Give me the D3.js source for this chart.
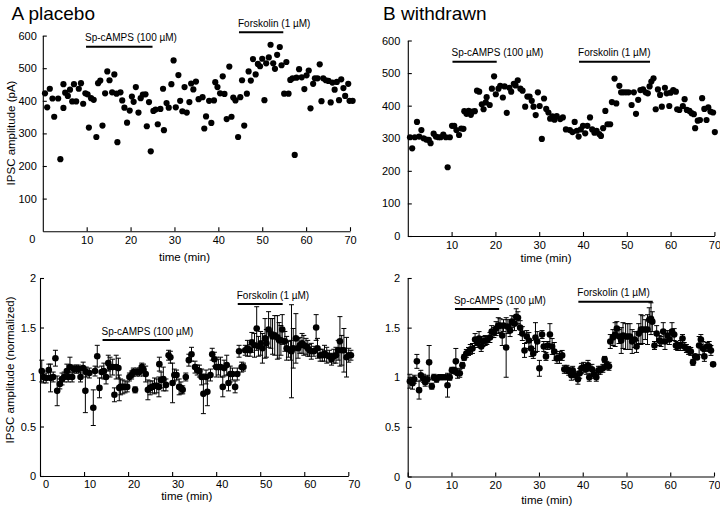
<!DOCTYPE html>
<html><head><meta charset="utf-8">
<script src="https://cdn.jsdelivr.net/npm/d3@7"></script>
<style>
body{margin:0;background:#fff}
svg{display:block}
text{font-family:"Liberation Sans",Arial,Helvetica,sans-serif;fill:#000}
</style>
</head><body>
<svg id="chart" width="720" height="508"></svg>
<script>
// ---------- tick labels / text ----------
const panelTitles = ["A placebo", "B withdrawn"];
const treatmentNames = ["Sp-cAMPS (100 \u00b5M)", "Forskolin (1 \u00b5M)"];
const timeTicksTop = [10, 20, 30, 40, 50, 60, 70];
const timeTicksBottom = [0, 10, 20, 30, 40, 50, 60, 70];
const ampTicksPlacebo = [100, 200, 300, 400, 500, 600];
const ampTicksWithdrawn = [0, 100, 200, 300, 400, 500, 600];
const normTicks = [0, 0.5, 1, 1.5, 2];
const xTitle = "time (min)";
const yTitleTop = "IPSC amplitude (pA)";
const yTitleBottom = "IPSC amplitude (normalized)";

// treatment periods [start, end] in minutes
const placeboTopTreat = [[9.85, 25.0], [44.7, 54.8]];
const withdrawnTopTreat = [[10.2, 20.3], [39.1, 55.3]];
const placeboBotTreat = [[14.2, 29.5], [44.9, 55.1]];
const withdrawnBotTreat = [[10.8, 20.9], [39.0, 56.0]];

// ---------- data: [time (min), IPSC amplitude (pA)] ----------
const placeboRaw = [
[0.5,423],[1.0,380],[1.6,437],[2.2,407],[2.6,351],[3.5,407],[4.0,221],[4.7,451],[4.7,378],[5.1,425],
[5.7,415],[6.2,434],[6.7,398],[7.1,451],[7.6,398],[8.2,437],[8.7,454],[9.2,391],[9.7,423],[10.2,420],
[10.5,318],[11.0,408],[11.6,403],[12.2,289],[12.6,454],[13.1,462],[13.6,324],[14.2,423],[14.7,490],[15.2,463],
[15.8,426],[16.3,481],[16.8,422],[17.0,273],[17.7,426],[18.1,401],[18.6,379],[19.2,333],[19.8,370],[20.3,413],
[20.7,397],[21.2,442],[21.8,364],[22.3,408],[22.8,419],[23.4,420],[23.7,322],[24.2,396],[24.6,245],[25.2,369],
[25.7,373],[26.2,328],[26.8,375],[27.4,437],[27.6,310],[28.2,393],[28.7,379],[29.3,451],[29.8,524],[30.3,380],
[30.9,479],[31.3,400],[31.8,368],[32.3,442],[32.8,364],[33.4,396],[33.8,453],[34.3,435],[34.9,459],[35.5,405],
[36.4,411],[36.8,315],[37.2,352],[37.9,400],[38.4,332],[39.0,401],[39.3,457],[39.8,442],[40.4,423],[41.0,475],
[41.4,421],[41.9,344],[42.5,505],[43.0,351],[43.4,410],[43.9,401],[44.5,289],[45.0,411],[45.4,463],[45.9,324],
[46.5,422],[46.9,490],[47.4,462],[47.9,528],[48.5,481],[49.0,513],[49.5,506],[50.0,529],[50.5,402],[50.9,515],
[51.5,533],[51.9,572],[52.5,515],[52.9,498],[53.4,541],[54.0,565],[54.4,509],[55.0,422],[55.5,519],[56.0,422],
[56.4,464],[56.9,469],[57.4,234],[57.8,471],[58.4,497],[59.0,472],[59.6,436],[60.1,478],[60.6,493],[61.0,377],
[61.6,452],[62.0,469],[62.6,469],[63.1,512],[63.5,399],[63.9,469],[64.5,463],[65.1,461],[65.6,395],[66.0,456],
[66.5,434],[67.0,458],[67.5,402],[68.0,466],[68.5,439],[68.9,415],[69.6,452],[69.9,400],[70.6,400]
];
const withdrawnRaw = [
[0.5,303],[1.0,269],[1.6,303],[2.1,350],[2.6,305],[3.1,325],[3.6,300],[4.2,296],[4.8,295],[5.2,285],
[5.9,314],[6.4,305],[7.0,303],[7.5,303],[8.1,311],[8.7,303],[9.1,211],[9.6,303],[10.1,338],[10.6,338],
[11.1,325],[11.7,310],[12.2,330],[12.7,329],[12.9,383],[13.4,375],[13.9,384],[14.4,372],[14.8,382],[15.3,383],
[15.8,446],[16.3,443],[16.9,404],[17.3,389],[17.8,410],[18.0,426],[18.7,402],[19.2,452],[19.7,490],[20.1,435],
[20.7,452],[21.1,461],[21.7,425],[22.1,459],[22.6,378],[23.2,455],[23.6,443],[24.2,467],[24.6,462],[25.1,478],
[25.7,452],[26.2,446],[26.8,397],[27.3,428],[27.8,428],[28.3,415],[28.7,397],[29.2,371],[29.7,441],[30.1,399],
[30.6,298],[31.1,422],[31.6,390],[32.1,379],[32.5,360],[33.0,367],[33.5,357],[34.0,368],[34.8,359],[35.4,364],
[36.1,327],[37.0,325],[37.6,319],[38.1,350],[38.6,323],[39.0,305],[39.5,327],[40.0,338],[40.5,315],[41.0,338],
[41.6,364],[42.1,327],[42.6,317],[43.1,323],[43.7,313],[44.1,307],[44.6,331],[45.1,384],[45.6,343],[46.2,343],
[46.6,411],[47.2,483],[47.6,407],[48.3,461],[48.7,441],[49.2,441],[49.8,441],[50.4,441],[51.1,402],[51.6,441],
[52.1,375],[52.6,418],[53.1,448],[53.7,450],[54.3,441],[54.8,438],[55.2,459],[55.6,474],[56.1,484],[56.6,389],
[57.1,450],[57.6,433],[58.0,397],[58.7,455],[59.1,438],[59.7,399],[60.0,440],[60.6,448],[61.2,443],[61.5,389],
[62.0,387],[62.8,399],[63.2,420],[63.7,387],[64.3,384],[64.8,377],[65.3,374],[65.6,331],[66.2,354],[66.7,356],
[67.2,423],[67.7,390],[68.2,356],[68.6,395],[69.1,382],[69.7,379],[70.1,319]
];

// ---------- data: [time (min), normalized IPSC (mean), s.e.m.] ----------
const placeboNorm = [
[0.4,1.06,0.11],[0.8,1.00,0.06],[1.4,0.99,0.05],[2.0,1.07,0.06],[2.4,0.99,0.14],[3.0,1.00,0.05],[3.5,1.19,0.08],[3.9,0.86,0.15],
[4.5,0.93,0.05],[5.0,0.98,0.06],[5.5,1.00,0.05],[6.1,1.06,0.07],[6.4,1.00,0.05],[6.8,1.10,0.10],[7.3,1.00,0.05],[7.7,1.08,0.04],
[8.3,1.08,0.04],[8.8,1.08,0.04],[9.2,1.00,0.05],[9.8,1.09,0.06],[10.3,0.86,0.22],[10.5,1.05,0.05],[11.2,1.04,0.05],[12.1,0.69,0.18],
[12.5,1.06,0.05],[13.0,1.21,0.11],[13.5,0.89,0.10],[14.0,1.05,0.06],[14.5,1.06,0.08],[15.0,1.00,0.07],[15.5,1.14,0.08],[15.9,1.10,0.10],
[16.5,1.10,0.08],[16.9,0.82,0.07],[17.3,1.10,0.12],[17.8,1.09,0.10],[18.0,0.89,0.13],[18.3,0.90,0.08],[18.8,0.90,0.07],[19.3,0.90,0.06],
[19.8,0.90,0.05],[20.3,1.00,0.04],[20.8,1.02,0.04],[21.2,1.05,0.04],[21.6,0.87,0.03],[22.0,1.05,0.04],[22.6,1.05,0.04],[23.1,1.10,0.04],
[23.5,1.07,0.06],[24.0,1.03,0.08],[24.5,0.87,0.10],[25.0,0.89,0.07],[25.5,0.90,0.06],[26.0,0.91,0.08],[26.5,0.91,0.07],[27.0,0.90,0.10],
[27.1,1.13,0.07],[27.5,0.97,0.08],[28.0,0.98,0.12],[28.6,0.92,0.06],[29.2,1.22,0.05],[29.6,1.20,0.06],[30.1,0.94,0.20],[30.5,1.02,0.06],
[31.0,1.02,0.05],[31.6,0.90,0.08],[32.0,0.89,0.06],[32.4,0.87,0.04],[33.1,1.00,0.04],[33.8,1.17,0.06],[34.4,1.23,0.07],[35.2,1.10,0.06],
[35.7,1.07,0.05],[36.2,1.06,0.06],[36.7,1.00,0.08],[37.1,0.83,0.20],[37.7,1.00,0.07],[38.0,0.85,0.14],[38.7,1.02,0.06],[39.1,1.23,0.06],
[39.6,1.18,0.07],[40.0,1.10,0.10],[40.5,1.10,0.08],[41.0,1.10,0.10],[41.5,0.90,0.10],[41.8,1.09,0.08],[42.4,1.12,0.10],[42.8,0.94,0.08],
[43.2,1.03,0.08],[43.7,1.03,0.06],[44.3,0.90,0.06],[44.8,1.03,0.06],[45.2,1.26,0.06],[45.8,1.10,0.05],[46.2,1.10,0.04],[46.6,1.27,0.05],
[47.1,1.29,0.08],[47.7,1.27,0.06],[48.1,1.35,0.10],[48.7,1.32,0.12],[49.2,1.49,0.22],[49.6,1.31,0.10],[50.1,1.34,0.12],[50.5,1.29,0.15],
[51.1,1.39,0.20],[51.4,1.34,0.14],[51.9,1.48,0.18],[52.4,1.44,0.15],[52.8,1.41,0.18],[53.3,1.42,0.20],[53.9,1.40,0.22],[54.3,1.37,0.18],
[54.7,1.37,0.15],[55.0,1.48,0.15],[55.6,1.36,0.10],[56.0,1.29,0.12],[56.4,1.28,0.08],[56.9,1.27,0.10],[57.1,1.26,0.47],[57.5,1.29,0.20],
[58.1,1.39,0.25],[58.6,1.29,0.10],[59.0,1.32,0.08],[59.5,1.34,0.10],[59.9,1.32,0.10],[60.4,1.31,0.08],[60.8,1.29,0.08],[61.2,1.27,0.06],
[61.6,1.26,0.08],[62.2,1.26,0.05],[62.7,1.50,0.13],[63.0,1.29,0.10],[63.6,1.22,0.06],[64.1,1.22,0.06],[64.6,1.24,0.08],[65.1,1.22,0.08],
[65.7,1.21,0.06],[66.2,1.18,0.06],[66.7,1.21,0.07],[67.2,1.22,0.08],[67.7,1.27,0.10],[68.1,1.36,0.25],[68.5,1.27,0.15],[69.0,1.27,0.22],
[69.6,1.20,0.20],[70.1,1.22,0.07],[70.6,1.22,0.05]
];
const withdrawnNorm = [
[0.5,0.96,0.07],[1.1,0.94,0.06],[1.5,0.98,0.04],[2.1,1.16,0.07],[2.6,0.87,0.09],[3.0,1.02,0.05],[3.6,0.99,0.04],[4.0,0.95,0.04],
[4.5,0.98,0.04],[4.9,1.15,0.17],[5.5,0.91,0.03],[6.0,1.00,0.03],[6.6,0.98,0.03],[7.1,1.00,0.02],[7.6,1.00,0.02],[8.1,1.00,0.02],
[8.7,1.00,0.02],[9.1,0.92,0.12],[9.6,1.00,0.03],[10.1,1.07,0.03],[10.6,1.07,0.03],[11.0,1.16,0.13],[11.4,1.04,0.05],[11.9,1.04,0.04],
[12.5,1.12,0.03],[12.9,1.20,0.03],[13.4,1.24,0.04],[13.9,1.26,0.04],[14.3,1.28,0.05],[14.8,1.29,0.05],[15.4,1.38,0.06],[15.9,1.35,0.05],
[16.3,1.39,0.07],[16.8,1.31,0.05],[17.2,1.36,0.05],[17.7,1.37,0.05],[18.1,1.37,0.04],[18.8,1.40,0.05],[19.2,1.46,0.06],[19.7,1.45,0.05],
[20.2,1.49,0.07],[20.7,1.52,0.08],[21.1,1.52,0.07],[21.6,1.42,0.10],[21.9,1.52,0.06],[22.5,1.30,0.30],[22.9,1.51,0.07],[23.4,1.47,0.06],
[23.8,1.56,0.06],[24.4,1.54,0.07],[24.8,1.61,0.08],[25.2,1.60,0.06],[25.7,1.50,0.07],[26.2,1.44,0.07],[26.7,1.27,0.07],[27.2,1.41,0.06],
[27.7,1.37,0.08],[28.2,1.29,0.08],[28.7,1.24,0.05],[29.2,1.40,0.15],[29.6,1.36,0.10],[30.1,1.09,0.08],[30.7,1.43,0.04],[31.1,1.31,0.05],
[31.6,1.21,0.04],[32.0,1.32,0.04],[32.5,1.43,0.11],[33.0,1.31,0.08],[33.5,1.26,0.09],[34.1,1.19,0.05],[34.7,1.20,0.06],[35.3,1.22,0.05],
[35.8,1.08,0.04],[36.4,1.08,0.04],[36.8,1.06,0.04],[37.4,1.02,0.05],[37.7,1.07,0.04],[38.3,1.02,0.04],[38.9,0.98,0.05],[39.3,1.04,0.05],
[39.7,1.09,0.05],[40.2,1.10,0.05],[40.8,1.08,0.05],[41.2,1.12,0.05],[41.5,1.00,0.04],[42.1,1.08,0.05],[42.6,1.03,0.04],[43.1,1.00,0.04],
[43.6,1.07,0.04],[44.0,1.07,0.04],[44.6,1.09,0.04],[45.0,1.18,0.03],[45.5,1.12,0.04],[46.0,1.11,0.04],[46.3,1.36,0.07],[46.9,1.40,0.08],
[47.4,1.43,0.12],[47.8,1.49,0.07],[48.3,1.41,0.07],[48.8,1.37,0.13],[49.2,1.42,0.13],[49.8,1.41,0.13],[50.3,1.41,0.13],[50.8,1.41,0.13],
[51.3,1.36,0.12],[51.9,1.38,0.08],[52.3,1.31,0.06],[52.8,1.44,0.10],[53.3,1.48,0.15],[53.7,1.48,0.14],[54.3,1.48,0.10],[54.8,1.48,0.15],
[55.2,1.58,0.12],[55.6,1.59,0.16],[55.9,1.56,0.10],[56.4,1.32,0.04],[56.9,1.44,0.08],[57.5,1.37,0.05],[57.9,1.36,0.05],[58.4,1.46,0.09],
[58.8,1.36,0.08],[59.4,1.42,0.05],[59.8,1.38,0.05],[60.4,1.46,0.09],[60.9,1.43,0.06],[61.3,1.32,0.04],[61.7,1.31,0.04],[62.3,1.32,0.05],
[62.8,1.39,0.04],[63.2,1.31,0.04],[63.7,1.29,0.04],[64.2,1.27,0.04],[64.7,1.26,0.04],[65.2,1.15,0.03],[65.7,1.21,0.02],[66.1,1.20,0.02],
[66.6,1.32,0.09],[67.0,1.38,0.05],[67.5,1.29,0.07],[67.8,1.21,0.05],[68.4,1.31,0.04],[68.9,1.31,0.05],[69.3,1.27,0.05],[69.8,1.13,0.02]
];

// ---------- drawing ----------
const svg = d3.select("#chart");
const FONT = "'Liberation Sans', Arial, Helvetica, sans-serif";

function drawPanel(cfg) {
  const x = d3.scaleLinear().domain([0, 70]).range(cfg.xRange);
  const y = d3.scaleLinear().domain(cfg.yDomain).range(cfg.yRange);
  const g = svg.append("g");

  const xa = g.append("g").attr("transform", `translate(0,${cfg.yRange[0]})`)
    .call(d3.axisBottom(x).tickValues(cfg.xTicks).tickSizeInner(-4).tickSizeOuter(0)
      .tickPadding(cfg.xPad).tickFormat(d3.format("d")));
  const ya = g.append("g").attr("transform", `translate(${cfg.xRange[0]},0)`)
    .call(d3.axisLeft(y).tickValues(cfg.yTicks).tickSizeInner(-4).tickSizeOuter(0)
      .tickPadding(cfg.yPad).tickFormat(d => String(d)));
  [xa, ya].forEach(a => {
    a.attr("font-family", FONT).attr("font-size", 11);
    a.selectAll("path,line").attr("stroke", "#000").attr("stroke-width", 1.1);
    a.selectAll("text").attr("fill", "#000");
  });
  if (cfg.xLabelDx) xa.selectAll("text").attr("dx", cfg.xLabelDx);

  if (cfg.cornerZero) {
    g.append("text").attr("x", cfg.xRange[0] - 10.5).attr("y", cfg.yRange[0] + 12)
      .attr("font-size", 11).attr("text-anchor", "middle").text(cfg.cornerZero);
  }

  g.append("text").attr("x", cfg.xTitlePos[0]).attr("y", cfg.xTitlePos[1])
    .attr("font-size", 11.5).attr("text-anchor", "middle").text(xTitle);
  if (cfg.yTitle) {
    g.append("text").attr("transform", `translate(${cfg.yTitlePos[0]},${cfg.yTitlePos[1]}) rotate(-90)`)
      .attr("font-size", 11.5).attr("text-anchor", "middle").text(cfg.yTitle);
  }

  cfg.treat.forEach((tr, i) => {
    const ly = cfg.treatY[i];
    g.append("line").attr("x1", x(tr[0])).attr("x2", x(tr[1]))
      .attr("y1", ly).attr("y2", ly).attr("stroke", "#000").attr("stroke-width", 2);
    g.append("text").attr("x", x(tr[0]) - 1).attr("y", ly - 5.5)
      .attr("font-size", 10).text(treatmentNames[i]);
  });

  if (cfg.errors) {
    const eb = g.append("g").attr("stroke", "#000").attr("stroke-width", 1);
    cfg.data.forEach(d => {
      const cx = x(d[0]);
      const y1 = y(d[1] - d[2]), y2 = y(d[1] + d[2]);
      eb.append("line").attr("x1", cx).attr("x2", cx).attr("y1", y1).attr("y2", y2);
      eb.append("line").attr("x1", cx - 2.5).attr("x2", cx + 2.5).attr("y1", y1).attr("y2", y1);
      eb.append("line").attr("x1", cx - 2.5).attr("x2", cx + 2.5).attr("y1", y2).attr("y2", y2);
    });
  }

  g.append("g").selectAll("circle").data(cfg.data).join("circle")
    .attr("cx", d => x(d[0])).attr("cy", d => y(d[1])).attr("r", cfg.r).attr("fill", "#000");
}

svg.append("text").attr("x", 11.5).attr("y", 20.3).attr("font-size", 19).text(panelTitles[0]);
svg.append("text").attr("x", 383).attr("y", 19.5).attr("font-size", 19).text(panelTitles[1]);

drawPanel({
  data: placeboRaw, xRange: [42.8, 350], yDomain: [0, 600], yRange: [231.2, 35.6],
  xTicks: timeTicksTop, yTicks: ampTicksPlacebo, xPad: 5.5, yPad: 6, cornerZero: "0",
  xTitlePos: [184.5, 261], yTitle: yTitleTop, yTitlePos: [15, 133],
  treat: placeboTopTreat, treatY: [46.7, 32.3], r: 3.1
});
drawPanel({
  data: withdrawnRaw, xRange: [407.8, 714.4], yDomain: [0, 600], yRange: [236, 40.5],
  xTicks: timeTicksTop, yTicks: ampTicksWithdrawn, xPad: 5, yPad: 7.5,
  xTitlePos: [546, 262], treat: withdrawnTopTreat, treatY: [61.7, 61.7], r: 3.1
});
drawPanel({
  data: placeboNorm, errors: true, xRange: [40, 348.3], yDomain: [0, 2], yRange: [476, 278],
  xTicks: timeTicksBottom, yTicks: normTicks, xPad: 4, yPad: 4, xLabelDx: 5.5,
  xTitlePos: [186.7, 499.5], yTitle: yTitleBottom, yTitlePos: [14, 370],
  treat: placeboBotTreat, treatY: [340, 304], r: 3.3
});
drawPanel({
  data: withdrawnNorm, errors: true, xRange: [407.7, 714], yDomain: [0, 2], yRange: [476.5, 278],
  xTicks: timeTicksBottom, yTicks: normTicks, xPad: 5, yPad: 7.5,
  xTitlePos: [546.7, 503.5], treat: withdrawnBotTreat, treatY: [309, 301.7], r: 3.3
});
</script>
</body></html>
